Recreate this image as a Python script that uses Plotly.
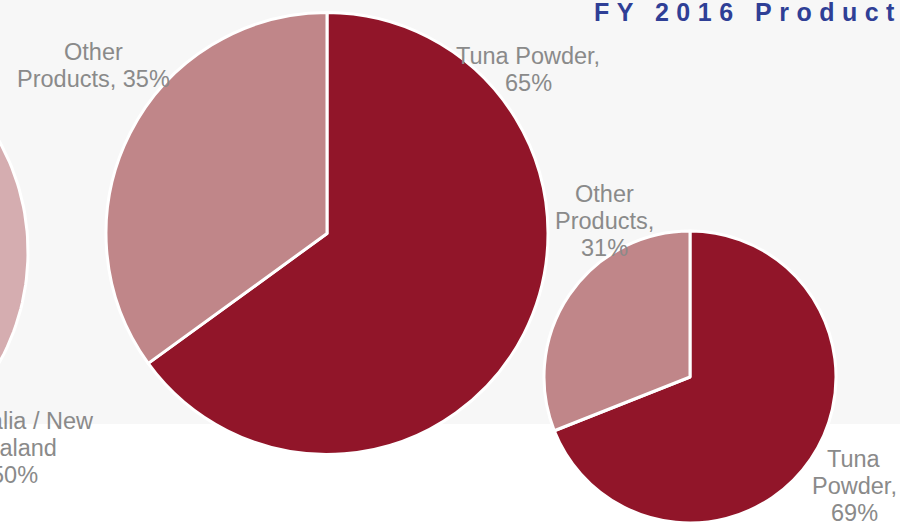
import numpy as np
import plotly.graph_objects as go

W, H = 900, 523

# ---------------- data ----------------
big_labels = ["Tuna Powder", "Other Products"]
big_values = [65, 35]
small_labels = ["Tuna Powder", "Other Products"]
small_values = [69, 31]
left_labels = ["Australia / New Zealand", "Other Regions"]
left_values = [50, 50]
title_text = "FY 2016 Product Sales"

# ---------------- styles ----------------
DARK = "#911529"
MID = "#c08689"
LIGHT = "#d5adb0"
OFF = "#a8585f"
GRAY_TXT = "#8a8a8a"
BG = "#f7f7f7"
TITLE_C = "#2f3f96"
FONT = "Liberation Sans, Arial, sans-serif"
FS = 23.5


def dom(cx, cy, r):
    return dict(x=[(cx - r) / W, (cx + r) / W],
                y=[1 - (cy + r) / H, 1 - (cy - r) / H])


fig = go.Figure()

# left, mostly off-canvas pie drawn as filled wedges on a pixel-scaled axis
lcx, lcy, lr = -200, 252, 228
tot = float(sum(left_values))
start = 0.0
for lab, val, col in zip(left_labels, left_values, [LIGHT, OFF]):
    a0 = start / tot * 2 * np.pi
    a1 = (start + val) / tot * 2 * np.pi
    th = np.linspace(a0, a1, 120)
    xs = np.concatenate([[lcx], lcx + lr * np.sin(th), [lcx]])
    ys = np.concatenate([[lcy], lcy - lr * np.cos(th), [lcy]])
    fig.add_trace(go.Scatter(x=xs, y=ys, mode="lines", fill="toself",
                             fillcolor=col, line=dict(color="white", width=3),
                             hoverinfo="skip", showlegend=False, name=lab))
    start += val

# big pie
fig.add_trace(go.Pie(labels=big_labels, values=big_values, sort=False,
                     direction="clockwise", rotation=0, textinfo="none",
                     marker=dict(colors=[DARK, MID], line=dict(color="white", width=3)),
                     domain=dom(327, 233.5, 221), showlegend=False, hoverinfo="skip"))
# small pie
fig.add_trace(go.Pie(labels=small_labels, values=small_values, sort=False,
                     direction="clockwise", rotation=0, textinfo="none",
                     marker=dict(colors=[DARK, MID], line=dict(color="white", width=3)),
                     domain=dom(690, 377, 146), showlegend=False, hoverinfo="skip"))

# ---------------- labels ----------------
label_specs = [
    ([f"{big_labels[1].split()[0]}", f"{big_labels[1].split()[1]}, {big_values[1]}%"], 93, 52),
    ([f"{big_labels[0]},", f"{big_values[0]}%"], 528, 56),
    ([small_labels[1].split()[0], small_labels[1].split()[1] + ",", f"{small_values[1]}%"], 604, 194),
    ([small_labels[0].split()[0], small_labels[0].split()[1] + ",", f"{small_values[0]}%"], 854, 459),
    (["Australia / New", "Zealand", f"{left_values[0]}%"], 14, 421),
]
LS = 27
annos = []
for lines, x, y0 in label_specs:
    for i, t in enumerate(lines):
        annos.append(dict(x=x, y=y0 + i * LS, xref="x", yref="y", text=t,
                          showarrow=False, xanchor="center", yanchor="middle",
                          font=dict(family=FONT, size=FS, color=GRAY_TXT)))

annos.append(dict(x=592, y=11.5, xref="x", yref="y",
                  text=f'<span style="letter-spacing:7.5px">{title_text}</span>',
                  showarrow=False, xanchor="left", yanchor="middle",
                  font=dict(family=FONT, size=25, color=TITLE_C, weight="bold")))

fig.update_layout(
    width=W, height=H,
    margin=dict(l=0, r=0, t=0, b=0),
    paper_bgcolor="white", plot_bgcolor="rgba(0,0,0,0)",
    xaxis=dict(range=[0, W], visible=False, fixedrange=True),
    yaxis=dict(range=[H, 0], visible=False, fixedrange=True),
    shapes=[dict(type="rect", xref="paper", yref="paper", x0=0, x1=1,
                 y0=1 - 424 / H, y1=1, fillcolor=BG, line=dict(width=0), layer="below")],
    annotations=annos,
    showlegend=False,
)

fig.write_html("out.html", config={"displayModeBar": False},
               post_script="document.body.style.margin='0';document.body.style.overflow='hidden';")
